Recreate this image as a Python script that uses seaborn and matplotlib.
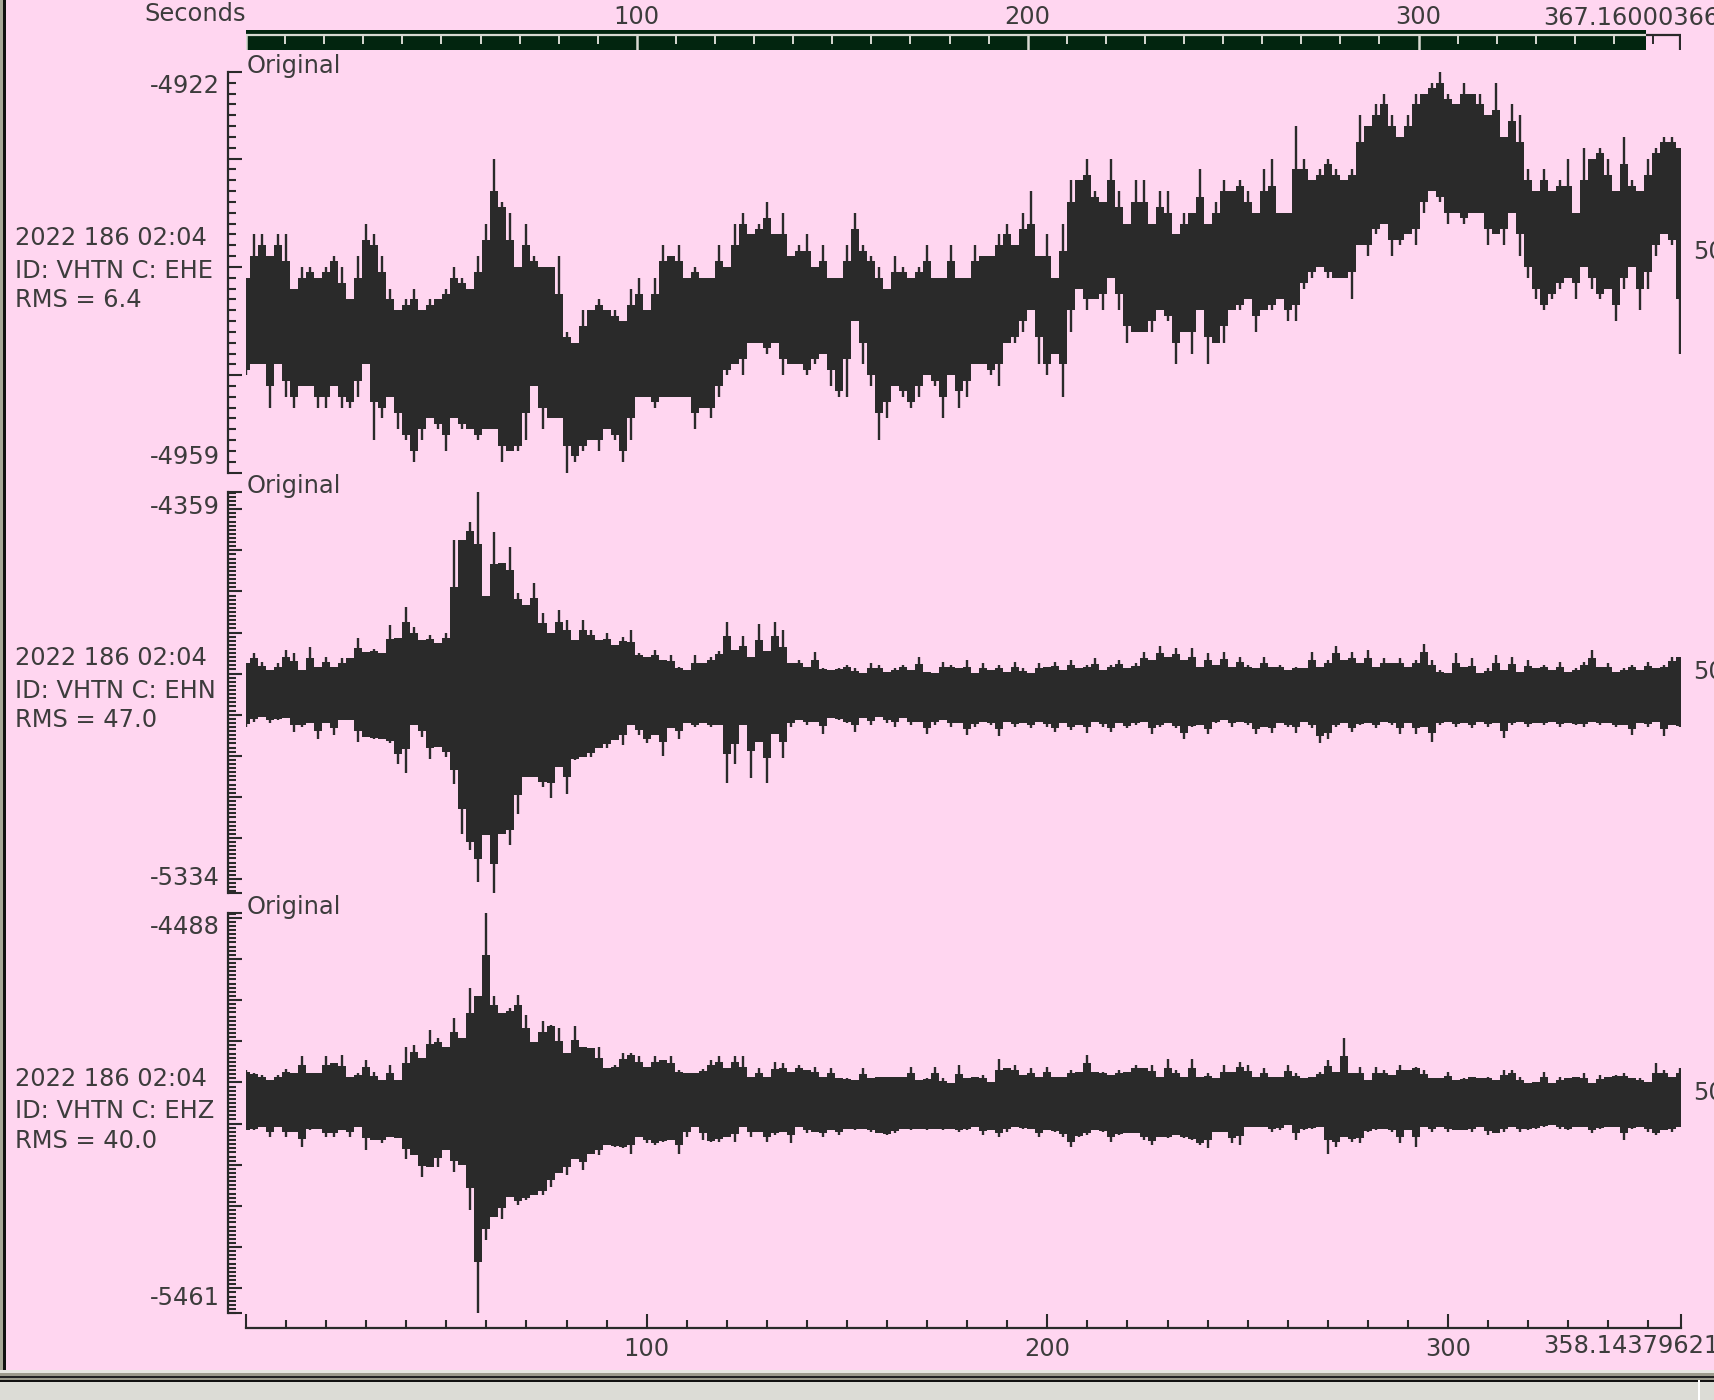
import numpy as np
import pandas as pd
import seaborn as sns
import matplotlib.pyplot as plt
from matplotlib.patches import Rectangle

# sample times in seconds, one peak reading every 2 s
times = [
    0, 2, 4, 6, 8, 10, 12, 14, 16, 18, 20, 22, 24, 26, 28, 30, 32, 34, 36, 38,
    40, 42, 44, 46, 48, 50, 52, 54, 56, 58, 60, 62, 64, 66, 68, 70, 72, 74, 76, 78,
    80, 82, 84, 86, 88, 90, 92, 94, 96, 98, 100, 102, 104, 106, 108, 110, 112, 114, 116, 118,
    120, 122, 124, 126, 128, 130, 132, 134, 136, 138, 140, 142, 144, 146, 148, 150, 152, 154, 156, 158,
    160, 162, 164, 166, 168, 170, 172, 174, 176, 178, 180, 182, 184, 186, 188, 190, 192, 194, 196, 198,
    200, 202, 204, 206, 208, 210, 212, 214, 216, 218, 220, 222, 224, 226, 228, 230, 232, 234, 236, 238,
    240, 242, 244, 246, 248, 250, 252, 254, 256, 258, 260, 262, 264, 266, 268, 270, 272, 274, 276, 278,
    280, 282, 284, 286, 288, 290, 292, 294, 296, 298, 300, 302, 304, 306, 308, 310, 312, 314, 316, 318,
    320, 322, 324, 326, 328, 330, 332, 334, 336, 338, 340, 342, 344, 346, 348, 350, 352, 354, 356, 358,
]

# EHE channel
ehe_high = [
    -4941, -4937, -4937, -4939, -4937, -4937, -4942, -4940, -4940, -4941, -4940, -4939, -4940, -4943, -4939, -4936, -4937, -4939, -4942, -4944,
    -4943, -4942, -4944, -4943, -4943, -4942, -4940, -4941, -4942, -4939, -4936, -4930, -4934, -4935, -4940, -4936, -4939, -4940, -4940, -4939,
    -4946, -4947, -4944, -4944, -4943, -4944, -4944, -4945, -4942, -4941, -4944, -4941, -4938, -4939, -4938, -4941, -4940, -4941, -4941, -4938,
    -4940, -4936, -4935, -4937, -4936, -4934, -4937, -4935, -4939, -4938, -4937, -4940, -4938, -4941, -4941, -4938, -4935, -4938, -4939, -4940,
    -4942, -4939, -4940, -4941, -4940, -4938, -4941, -4941, -4938, -4941, -4941, -4938, -4939, -4939, -4937, -4936, -4938, -4935, -4933, -4939,
    -4937, -4941, -4936, -4932, -4932, -4930, -4933, -4934, -4930, -4933, -4936, -4932, -4932, -4936, -4933, -4933, -4937, -4935, -4935, -4931,
    -4936, -4934, -4932, -4933, -4932, -4933, -4935, -4931, -4930, -4935, -4935, -4927, -4930, -4932, -4931, -4930, -4931, -4932, -4931, -4926,
    -4927, -4925, -4924, -4926, -4928, -4926, -4924, -4924, -4923, -4922, -4924, -4925, -4923, -4924, -4924, -4926, -4923, -4928, -4925, -4926,
    -4931, -4933, -4931, -4933, -4932, -4930, -4935, -4929, -4930, -4929, -4930, -4933, -4928, -4932, -4933, -4930, -4929, -4928, -4928, -4929,
]
ehe_low = [
    -4950, -4949, -4949, -4953, -4949, -4952, -4953, -4951, -4951, -4953, -4953, -4951, -4953, -4953, -4952, -4949, -4956, -4954, -4952, -4955,
    -4956, -4958, -4956, -4954, -4955, -4957, -4954, -4955, -4955, -4956, -4955, -4955, -4958, -4957, -4957, -4956, -4951, -4955, -4954, -4954,
    -4959, -4958, -4957, -4956, -4957, -4955, -4956, -4958, -4956, -4952, -4952, -4953, -4952, -4952, -4952, -4952, -4955, -4953, -4954, -4952,
    -4950, -4949, -4950, -4947, -4947, -4948, -4947, -4950, -4949, -4949, -4950, -4949, -4948, -4951, -4952, -4952, -4945, -4949, -4951, -4956,
    -4954, -4951, -4952, -4953, -4952, -4950, -4951, -4954, -4950, -4953, -4952, -4949, -4949, -4950, -4951, -4947, -4947, -4946, -4944, -4949,
    -4950, -4948, -4952, -4946, -4942, -4944, -4943, -4944, -4941, -4944, -4947, -4946, -4946, -4946, -4944, -4945, -4949, -4946, -4948, -4944,
    -4949, -4947, -4947, -4944, -4944, -4943, -4946, -4944, -4944, -4943, -4945, -4945, -4942, -4941, -4940, -4941, -4941, -4941, -4943, -4938,
    -4939, -4937, -4936, -4939, -4938, -4937, -4938, -4935, -4933, -4934, -4936, -4935, -4936, -4935, -4935, -4938, -4937, -4938, -4935, -4939,
    -4941, -4943, -4944, -4943, -4942, -4941, -4943, -4940, -4942, -4943, -4942, -4945, -4942, -4940, -4944, -4942, -4939, -4937, -4938, -4948,
]

# EHN channel
ehn_high = [
    -4775, -4749, -4772, -4791, -4775, -4743, -4749, -4791, -4735, -4783, -4759, -4783, -4763, -4763, -4714, -4747, -4739, -4751, -4682, -4714,
    -4637, -4686, -4718, -4706, -4726, -4702, -4475, -4475, -4430, -4359, -4611, -4456, -4531, -4491, -4605, -4633, -4580, -4653, -4702, -4645,
    -4670, -4718, -4670, -4694, -4718, -4702, -4730, -4710, -4694, -4751, -4759, -4743, -4767, -4755, -4783, -4791, -4755, -4775, -4759, -4744,
    -4674, -4742, -4708, -4759, -4679, -4744, -4674, -4694, -4775, -4767, -4783, -4748, -4787, -4791, -4787, -4779, -4787, -4799, -4775, -4779,
    -4795, -4787, -4779, -4791, -4759, -4795, -4799, -4771, -4779, -4787, -4767, -4799, -4775, -4791, -4779, -4795, -4771, -4787, -4799, -4775,
    -4783, -4771, -4791, -4767, -4787, -4779, -4763, -4791, -4779, -4767, -4787, -4775, -4747, -4767, -4734, -4759, -4738, -4767, -4738, -4783,
    -4751, -4779, -4747, -4783, -4759, -4779, -4787, -4759, -4783, -4779, -4791, -4783, -4787, -4747, -4783, -4767, -4734, -4767, -4747, -4775,
    -4742, -4783, -4763, -4775, -4763, -4783, -4767, -4728, -4767, -4791, -4799, -4751, -4783, -4763, -4799, -4787, -4755, -4791, -4759, -4795,
    -4767, -4787, -4779, -4791, -4771, -4795, -4787, -4771, -4742, -4783, -4775, -4795, -4787, -4779, -4791, -4771, -4787, -4779, -4759, -4759,
]
ehn_low = [
    -4930, -4917, -4905, -4921, -4913, -4909, -4942, -4930, -4921, -4960, -4921, -4950, -4913, -4913, -4966, -4954, -4958, -4960, -4970, -5019,
    -5043, -4925, -4954, -5007, -4978, -5003, -5068, -5190, -5230, -5307, -5194, -5336, -5190, -5218, -5141, -5051, -5051, -5076, -5104, -5027,
    -5092, -5011, -5003, -5003, -4982, -4982, -4962, -4974, -4925, -4950, -4970, -4950, -5000, -4933, -4958, -4921, -4929, -4921, -4929, -4925,
    -5067, -5019, -4925, -5054, -4966, -5067, -4946, -5005, -4929, -4913, -4925, -4917, -4946, -4909, -4913, -4921, -4942, -4909, -4925, -4905,
    -4921, -4929, -4909, -4925, -4917, -4946, -4925, -4913, -4929, -4921, -4950, -4929, -4917, -4925, -4952, -4917, -4929, -4921, -4933, -4917,
    -4929, -4942, -4921, -4937, -4925, -4944, -4917, -4929, -4942, -4921, -4933, -4925, -4917, -4946, -4929, -4921, -4933, -4960, -4929, -4925,
    -4947, -4921, -4913, -4929, -4917, -4925, -4946, -4929, -4944, -4921, -4929, -4944, -4917, -4933, -4970, -4960, -4929, -4921, -4942, -4925,
    -4921, -4933, -4917, -4925, -4946, -4921, -4946, -4929, -4966, -4925, -4917, -4929, -4921, -4933, -4917, -4929, -4921, -4956, -4925, -4917,
    -4929, -4921, -4925, -4917, -4929, -4921, -4925, -4929, -4917, -4925, -4921, -4929, -4925, -4950, -4921, -4929, -4917, -4952, -4925, -4929,
]

# EHZ channel
ehz_high = [
    -4870, -4878, -4882, -4894, -4882, -4868, -4878, -4837, -4878, -4878, -4837, -4854, -4833, -4886, -4878, -4846, -4874, -4894, -4858, -4894,
    -4813, -4809, -4841, -4773, -4793, -4813, -4744, -4793, -4671, -4691, -4488, -4691, -4732, -4720, -4687, -4736, -4801, -4752, -4760, -4768,
    -4829, -4764, -4813, -4817, -4813, -4866, -4858, -4829, -4829, -4837, -4862, -4837, -4846, -4836, -4870, -4878, -4878, -4868, -4846, -4837,
    -4866, -4837, -4837, -4886, -4866, -4886, -4850, -4854, -4874, -4858, -4870, -4862, -4886, -4866, -4890, -4890, -4894, -4866, -4890, -4886,
    -4886, -4886, -4886, -4862, -4894, -4890, -4862, -4890, -4902, -4858, -4890, -4886, -4882, -4898, -4842, -4866, -4858, -4882, -4866, -4886,
    -4862, -4886, -4886, -4870, -4874, -4833, -4874, -4874, -4882, -4870, -4874, -4858, -4866, -4858, -4886, -4842, -4870, -4886, -4842, -4886,
    -4878, -4890, -4858, -4874, -4850, -4858, -4886, -4866, -4886, -4886, -4858, -4878, -4890, -4886, -4874, -4846, -4874, -4793, -4878, -4862,
    -4894, -4862, -4870, -4882, -4858, -4870, -4862, -4870, -4890, -4890, -4874, -4894, -4890, -4886, -4890, -4886, -4894, -4870, -4870, -4886,
    -4902, -4898, -4874, -4902, -4886, -4890, -4886, -4878, -4902, -4882, -4886, -4882, -4878, -4890, -4890, -4898, -4854, -4870, -4886, -4866,
]
ehz_low = [
    -5016, -5016, -5008, -5032, -5008, -5032, -5020, -5058, -5016, -5012, -5032, -5032, -5016, -5032, -5008, -5063, -5040, -5048, -5032, -5036,
    -5087, -5077, -5129, -5105, -5105, -5064, -5117, -5101, -5210, -5461, -5283, -5227, -5231, -5178, -5198, -5186, -5174, -5174, -5154, -5121,
    -5125, -5085, -5113, -5073, -5077, -5052, -5056, -5060, -5073, -5032, -5048, -5052, -5044, -5040, -5073, -5032, -5008, -5040, -5044, -5044,
    -5032, -5044, -5008, -5032, -5020, -5044, -5028, -5020, -5048, -5008, -5024, -5020, -5032, -5016, -5028, -5012, -5016, -5012, -5020, -5024,
    -5028, -5024, -5012, -5016, -5012, -5016, -5012, -5016, -5012, -5020, -5016, -5008, -5028, -5016, -5032, -5020, -5008, -5012, -5012, -5032,
    -5016, -5020, -5032, -5056, -5032, -5028, -5016, -5020, -5044, -5028, -5024, -5024, -5040, -5052, -5032, -5036, -5028, -5036, -5040, -5052,
    -5060, -5020, -5020, -5048, -5052, -5008, -5008, -5008, -5020, -5016, -5004, -5040, -5016, -5012, -5008, -5073, -5056, -5032, -5044, -5048,
    -5020, -5016, -5012, -5020, -5048, -5016, -5056, -5008, -5020, -5008, -5020, -5016, -5016, -5020, -5008, -5028, -5024, -5020, -5008, -5020,
    -5016, -5012, -5008, -5004, -5012, -5016, -5008, -5008, -5024, -5012, -5008, -5008, -5040, -5012, -5008, -5020, -5028, -5016, -5020, -5008,
]

channels = ["EHE", "EHN", "EHZ"]
rms_values = ["6.4", "47.0", "40.0"]
y_max = [-4922, -4359, -4488]
y_min = [-4959, -5334, -5461]
y_major_step = [10, 100, 100]
y_minor_step = [1, 10, 10]
highs = [ehe_high, ehn_high, ehz_high]
lows = [ehe_low, ehn_low, ehz_low]

start_label = "2022 186 02:04"
rate_label = "50"
window_end = 358.14379621
total_end = 367.16000366

W, H = 1714, 1400
PINK = "#ffd6f0"
INK = "#2a2a2a"
TEXT = "#3c3c3c"
GREEN = "#02250f"
LIGHT = "#d9d9d2"
FS = 17.4

sns.set_theme(style="white", rc={"lines.solid_capstyle": "butt", "axes.linewidth": 1.6})
plt.rcParams["font.family"] = ["DejaVu Sans"]

fig = plt.figure(figsize=(W / 100, H / 100), dpi=100, facecolor=PINK)


def px_axes(left, top, right, bottom):
    ax = fig.add_axes([left / W, 1 - bottom / H, (right - left) / W, (bottom - top) / H])
    ax.patch.set_alpha(0)
    return ax


def put_text(x, y, s, ha="left"):
    fig.text(x / W, 1 - y / H, s, ha=ha, va="baseline", fontsize=FS, color=TEXT)


# window frame around the canvas
chrome = px_axes(0, 0, W, H)
chrome.set_xlim(0, W)
chrome.set_ylim(H, 0)
chrome.axis("off")
for x, y, w, h, c in [(0, 0, 3, 1372, "#a8a898"), (3, 0, 3, 1372, "#111111"),
                      (0, 1370, W, 3, "#e6e6e0"), (0, 1373, W, 3, "#9c9a8c"),
                      (0, 1376, W, 2, "#222222"), (0, 1378, W, 2, "#9c9a8c"),
                      (0, 1380, W, 2, "#111111"), (0, 1382, W, 18, "#dcdcd6"),
                      (1698, 1380, 2, 20, "#ffffff")]:
    chrome.add_patch(Rectangle((x, y), w, h, color=c, lw=0))

# seconds scale on top
scale = px_axes(246, 30, 1681, 50)
scale.set_xlim(0, total_end)
scale.set_ylim(20, 0)
scale.axvspan(0, window_end, color=GREEN, lw=0)
scale.hlines(4.5, 0, window_end, color=LIGHT, lw=1.6)
scale.hlines(4.5, window_end, total_end, color=INK, lw=1.6)
light_minor = [t for t in np.arange(10, 360, 10) if t % 100 != 0]
scale.vlines(light_minor, 4.5, 14, color=LIGHT, lw=1.4)
scale.vlines([0, 100, 200, 300], 4.5, 20, color=LIGHT, lw=1.8)
scale.vlines([360], 4.5, 14, color=INK, lw=1.4)
scale.vlines([total_end - 0.2], 4.5, 20, color=INK, lw=1.6)
sns.despine(ax=scale, left=True, bottom=True, right=True, top=True)
scale.xaxis.tick_top()
scale.set_xticks([100, 200, 300], labels=["100", "200", "300"], fontsize=FS, color=TEXT)
scale.tick_params(axis="x", length=0, pad=1)
scale.set_yticks([])
put_text(246, 21, "Seconds", ha="right")
put_text(1543, 25, f"{total_end:.8f}")

# the three seismic traces
tops = [72, 492.4, 912.8]
for i in range(3):
    top_px = tops[i]
    ax = px_axes(246, top_px, 1681, top_px + 400.6)
    sample_df = pd.DataFrame({"time": times, "high": highs[i], "low": lows[i]})
    sample_df["sample"] = sample_df.index
    long_df = sample_df.melt(id_vars=["sample", "time"], value_vars=["high", "low"], value_name="counts")

    # skyline body: each column goes halfway from the local valley to its own peak
    valley_high = sample_df["high"].rolling(3, center=True, min_periods=1).min()
    valley_low = sample_df["low"].rolling(3, center=True, min_periods=1).max()
    body_high = (valley_high + sample_df["high"]) / 2
    body_low = (valley_low + sample_df["low"]) / 2
    ax.fill_between(sample_df["time"], body_low, body_high, step="mid", color=INK, lw=0)

    sns.lineplot(data=long_df, x="time", y="counts", units="sample", estimator=None,
                 color=INK, linewidth=1.7, legend=False, ax=ax)

    ax.set_xlim(0, window_end)
    ax.set_ylim(y_min[i], y_max[i])
    ax.set_xlabel("")
    ax.set_ylabel("")

    major = [y_max[i]] + list(range(y_max[i] - y_max[i] % y_major_step[i], y_min[i], -y_major_step[i])) + [y_min[i]]
    minor = list(range(y_max[i] - y_max[i] % y_minor_step[i], y_min[i], -y_minor_step[i]))
    ax.set_yticks(major)
    ax.set_yticks(minor, minor=True)
    ax.tick_params(axis="y", which="major", direction="in", length=10, width=1.5, color=INK, left=True, labelleft=False)
    ax.tick_params(axis="y", which="minor", direction="in", length=5.8, width=1.5, color=INK, left=True)

    sns.despine(ax=ax, top=True, right=True, bottom=True)
    ax.spines["left"].set_position(("outward", 13))
    ax.spines["left"].set_color(INK)

    if i == 2:
        ax.spines["bottom"].set_visible(True)
        ax.spines["bottom"].set_position(("outward", 10.8))
        ax.spines["bottom"].set_color(INK)
        ax.set_xticks([0, 100, 200, 300, window_end], labels=["", "100", "200", "300", ""],
                      fontsize=FS, color=TEXT)
        ax.set_xticks(np.arange(10, 358, 10), minor=True)
        ax.tick_params(axis="x", which="major", direction="in", length=10, width=1.5, color=INK, bottom=True, pad=6)
        ax.tick_params(axis="x", which="minor", direction="in", length=5.8, width=1.5, color=INK, bottom=True)
    else:
        ax.set_xticks([])

    off = 420.4 * i
    put_text(247, 73 + off, "Original")
    put_text(220, 93.3 + off, str(y_max[i]), ha="right")
    put_text(220, 464.2 + off, str(y_min[i]), ha="right")
    put_text(15, 245 + off, start_label)
    put_text(15, 277.7 + off, f"ID: VHTN C: {channels[i]}")
    put_text(15, 306.7 + off, f"RMS = {rms_values[i]}")
    put_text(1693, 259 + off, rate_label)

put_text(1543, 1353.3, f"{window_end:.8f}")

fig.savefig("out.png", dpi=100, facecolor=PINK)
